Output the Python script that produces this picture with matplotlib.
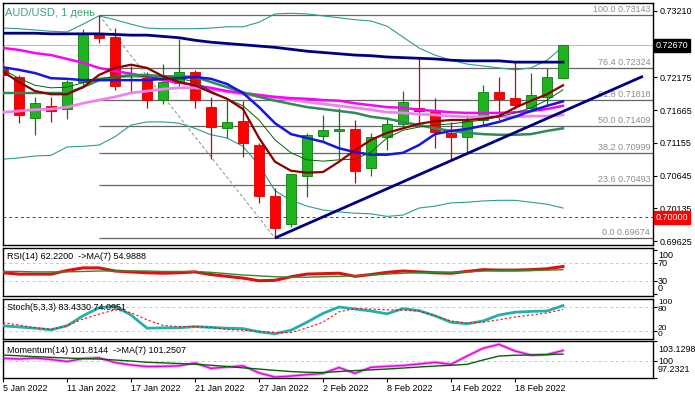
import matplotlib
matplotlib.use("Agg")
import matplotlib.pyplot as plt
from matplotlib.patches import Rectangle

plt.rcParams['font.family'] = ['Liberation Sans', 'DejaVu Sans']

W, H = 695, 395

# ---------------- data ----------------
symbol_title = "AUD/USD, 1 день"
date_ticks = [0, 4, 8, 12, 16, 20, 24, 28, 32]
date_labels = ["5 Jan 2022", "11 Jan 2022", "17 Jan 2022", "21 Jan 2022", "27 Jan 2022",
               "2 Feb 2022", "8 Feb 2022", "14 Feb 2022", "18 Feb 2022"]

opens = [0.7230, 0.7218, 0.7154, 0.7173, 0.7168, 0.7210, 0.7286, 0.7280, 0.7215, 0.7216,
         0.7182, 0.7208, 0.7226, 0.7171, 0.7138, 0.7149, 0.7112, 0.7033, 0.6989, 0.7064,
         0.7126, 0.7134, 0.7137, 0.7076, 0.7124, 0.7145, 0.7170, 0.7163, 0.7131, 0.7124,
         0.7151, 0.7194, 0.7185, 0.7170, 0.7187, 0.7216]
highs = [0.7241, 0.7221, 0.7187, 0.7187, 0.7213, 0.7293, 0.73143, 0.7294, 0.7235, 0.7226,
         0.7238, 0.7277, 0.7229, 0.7187, 0.7182, 0.7180, 0.7115, 0.7045, 0.7067, 0.7131,
         0.7159, 0.7170, 0.7151, 0.7131, 0.7156, 0.7196, 0.7247, 0.7185, 0.7148, 0.7159,
         0.7205, 0.7218, 0.7241, 0.7224, 0.7232, 0.7267]
lows = [0.7216, 0.7146, 0.7128, 0.7148, 0.7153, 0.7202, 0.7271, 0.7198, 0.7194, 0.7170,
        0.7176, 0.7204, 0.7170, 0.7090, 0.7123, 0.7093, 0.7022, 0.69674, 0.6985, 0.7031,
        0.7117, 0.7090, 0.7053, 0.7064, 0.7104, 0.7142, 0.7145, 0.7107, 0.7087, 0.7098,
        0.7143, 0.7151, 0.7168, 0.7163, 0.7174, 0.7216]
closes = [0.7221, 0.7159, 0.7177, 0.7165, 0.7210, 0.7285, 0.7279, 0.7204, 0.7213, 0.7182,
          0.7210, 0.7226, 0.7182, 0.7140, 0.7148, 0.7115, 0.7033, 0.6983, 0.7067, 0.7128,
          0.7135, 0.7137, 0.7072, 0.7124, 0.7145, 0.7179, 0.7165, 0.7132, 0.7124, 0.7149,
          0.7194, 0.7184, 0.7174, 0.7190, 0.7218, 0.7267]

ma_navy = [0.7286, 0.7286, 0.7286, 0.7285, 0.7285, 0.7285, 0.7285, 0.7284, 0.7283, 0.7283,
           0.7281, 0.7279, 0.7275, 0.7272, 0.7270, 0.7268, 0.7266, 0.7264, 0.7261, 0.7258,
           0.7256, 0.7254, 0.7252, 0.7251, 0.7249, 0.7248, 0.7247, 0.7246, 0.7244, 0.7243,
           0.7243, 0.7243, 0.7241, 0.7241, 0.7241, 0.7241]
ma_magenta = [0.7263, 0.7260, 0.7255, 0.7252, 0.7246, 0.7240, 0.7232, 0.7227, 0.7223, 0.7218,
              0.7213, 0.7209, 0.7205, 0.7201, 0.7196, 0.7193, 0.7190, 0.7187, 0.7185, 0.7184,
              0.7182, 0.7181, 0.7177, 0.7174, 0.7171, 0.7170, 0.7167, 0.7165, 0.7163, 0.7162,
              0.7162, 0.7162, 0.7163, 0.7165, 0.7168, 0.7173]
ma_violet = [0.7163, 0.7165, 0.7167, 0.7168, 0.7171, 0.7177, 0.7182, 0.7187, 0.7193, 0.7196,
             0.7199, 0.7201, 0.7201, 0.7198, 0.7195, 0.7191, 0.7188, 0.7185, 0.7182, 0.7179,
             0.7176, 0.7173, 0.7170, 0.7167, 0.7163, 0.7162, 0.7160, 0.7159, 0.7157, 0.7156,
             0.7156, 0.7156, 0.7156, 0.7157, 0.7157, 0.7159]
ma_blue = [0.7233, 0.7229, 0.7224, 0.7216, 0.7215, 0.7213, 0.7213, 0.7213, 0.7213, 0.7213,
           0.7215, 0.7216, 0.7218, 0.7215, 0.7207, 0.7193, 0.7171, 0.7146, 0.7129, 0.7123,
           0.7117, 0.7107, 0.7101, 0.7097, 0.7097, 0.7100, 0.7112, 0.7129, 0.7134, 0.7137,
           0.7142, 0.7148, 0.7156, 0.7165, 0.7173, 0.7180]
ma_darkred = [0.7226, 0.7210, 0.7196, 0.7191, 0.7191, 0.7202, 0.7221, 0.7232, 0.7237, 0.7232,
              0.7219, 0.7210, 0.7205, 0.7194, 0.7184, 0.7168, 0.7123, 0.7086, 0.7072, 0.7069,
              0.7070, 0.7086, 0.7104, 0.7120, 0.7131, 0.7138, 0.7145, 0.7149, 0.7151, 0.7151,
              0.7153, 0.7157, 0.7170, 0.7181, 0.7191, 0.7205]
ma_thin_green = [0.7229, 0.7216, 0.7205, 0.7201, 0.7202, 0.7209, 0.7216, 0.7218, 0.7218, 0.7218,
                 0.7216, 0.7216, 0.7210, 0.7196, 0.7184, 0.7173, 0.7151, 0.7120, 0.7100, 0.7089,
                 0.7087, 0.7089, 0.7090, 0.7101, 0.7123, 0.7135, 0.7140, 0.7143, 0.7145, 0.7148,
                 0.7151, 0.7156, 0.7162, 0.7170, 0.7182, 0.7198]
ma_green = [0.7193, 0.7193, 0.7193, 0.7193, 0.7193, 0.7202, 0.7213, 0.7218, 0.7221, 0.7221,
            0.7219, 0.7219, 0.7218, 0.7210, 0.7202, 0.7194, 0.7187, 0.7181, 0.7176, 0.7171,
            0.7168, 0.7165, 0.7162, 0.7156, 0.7153, 0.7148, 0.7143, 0.7138, 0.7134, 0.7131,
            0.7129, 0.7128, 0.7128, 0.7129, 0.7134, 0.7138]
bb_upper = [0.7294, 0.7293, 0.7291, 0.7289, 0.7288, 0.7300, 0.7313, 0.7307, 0.7300, 0.7294,
            0.7293, 0.7293, 0.7293, 0.7294, 0.7296, 0.7296, 0.7303, 0.7316, 0.7317, 0.7316,
            0.7313, 0.7310, 0.7307, 0.7305, 0.7297, 0.7280, 0.7263, 0.7252, 0.7244, 0.7238,
            0.7235, 0.7232, 0.7229, 0.7232, 0.7244, 0.7265]
bb_lower = [0.7090, 0.7092, 0.7095, 0.7096, 0.7109, 0.7110, 0.7112, 0.7125, 0.7143, 0.7148,
            0.7148, 0.7146, 0.7138, 0.7128, 0.7123, 0.7110, 0.7081, 0.7041, 0.7026, 0.7017,
            0.7011, 0.7008, 0.7006, 0.7005, 0.7001, 0.7003, 0.7014, 0.7017, 0.7022, 0.7023,
            0.7025, 0.7026, 0.7026, 0.7023, 0.7020, 0.7014]

price_ticks = [0.73210, 0.72175, 0.71665, 0.71155, 0.70645, 0.70135, 0.69625]
fib_levels = [100.0, 76.4, 61.8, 50.0, 38.2, 23.6, 0.0]
fib_prices = [0.73143, 0.72324, 0.71818, 0.71409, 0.70999, 0.70493, 0.69674]
fib_high_idx, fib_low_idx = 6, 17
trend_idx = [17, 40]
trend_price = [0.69674, 0.7219]
current_price = 0.72670
round_level = 0.70000

rsi = [48, 45, 45, 45, 53, 59, 59, 52, 50, 48, 47, 48, 50, 44, 40, 36, 30, 31, 39, 45,
       46, 47, 40, 44, 49, 52, 50, 48, 47, 51, 55, 54, 54, 55, 57, 62.2]
rsi_ma = [51, 51, 50, 50, 50, 51, 52, 52, 52, 52, 51, 51, 51, 49, 46, 43, 41, 39, 38, 38,
          39, 40, 41, 43, 45, 47, 48, 49, 49, 50, 52, 53, 53, 53, 54, 55.0]
rsi_levels = [70, 30]
stoch_k = [33, 30, 27, 23, 33, 58, 78, 82, 60, 27, 28, 28, 31, 29, 27, 26, 18, 13, 22, 42,
           64, 80, 75, 70, 63, 76, 71, 58, 42, 38, 45, 60, 67, 69, 70, 83.4]
stoch_d = [41, 35, 28, 24, 33, 50, 62, 73, 66, 48, 34, 31, 31, 29, 24, 22, 19, 16, 16, 28,
           42, 68, 76, 75, 73, 72, 70, 58, 45, 40, 42, 48, 55, 60, 65, 74.1]
stoch_levels = [80, 20]
momentum = [100.37, 100.26, 100.41, 100.18, 99.86, 100.33, 100.45, 99.70, 99.30, 99.06,
            99.09, 99.17, 99.62, 98.77, 98.98, 99.17, 98.05, 97.38, 97.54, 97.77,
            97.97, 98.90, 97.97, 98.93, 99.09, 99.22, 99.46, 99.73, 99.41, 100.73,
            101.96, 102.60, 101.53, 100.89, 100.97, 101.61]
momentum_ma = [100.89, 100.77, 100.64, 100.53, 100.41, 100.33, 100.26, 100.10, 99.94, 99.74,
               99.65, 99.54, 99.43, 99.27, 99.06, 98.85, 98.66, 98.45, 98.26, 98.15,
               98.10, 98.26, 98.42, 98.53, 98.66, 98.82, 98.98, 99.14, 99.25, 99.41,
               100.10, 100.73, 100.86, 100.89, 100.96, 101.05]
mom_range = [97.2321, 103.1298]

rsi_text = "RSI(14) 62.2200  ->MA(7) 54.9888"
stoch_text = "Stoch(5,3,3) 83.4330 74.0951"
mom_text = "Momentum(14) 101.8144  ->MA(7) 101.2507"

# ---------------- layout ----------------
def rect(x0, y0, x1, y1):
    return [x0 / W, 1 - y1 / H, (x1 - x0) / W, (y1 - y0) / H]

def ftext(x, y, s, **kw):
    kw.setdefault('fontsize', 6.5)
    kw.setdefault('va', 'center')
    fig.text(x / W, 1 - y / H, s, **kw)

fig = plt.figure(figsize=(W / 100, H / 100), dpi=100)
fig.patch.set_facecolor('white')

ax = fig.add_axes(rect(3, 3, 653, 245))
ax_rsi = fig.add_axes(rect(3, 248, 653, 296))
ax_st = fig.add_axes(rect(3, 299, 653, 339))
ax_mo = fig.add_axes(rect(3, 341, 653, 378))

XMAX = 650 / 16.0
for a in (ax, ax_rsi, ax_st, ax_mo):
    a.set_xlim(0, XMAX)
    a.set_facecolor('white')
    for sp in a.spines.values():
        sp.set_linewidth(1.0)
        sp.set_color('black')
    a.yaxis.tick_right()
    a.tick_params(axis='x', bottom=False, labelbottom=False)
    a.tick_params(axis='y', left=False, labelleft=False, right=True, length=3,
                  width=0.8, direction='out', labelsize=6.5, pad=1.5)

n = len(closes)
xs = list(range(n))

# ---------------- main chart ----------------
ax.set_ylim(0.69565, 0.73330)
ax.axhline(current_price, color='#c0c0c0', lw=0.8, zorder=1)
ax.axhline(round_level, color='#ff0000', lw=0.7, ls=(0, (3, 3)), zorder=1)

for lvl, p in zip(fib_levels, fib_prices):
    ax.hlines(p, fib_high_idx, XMAX, color='#666666', lw=0.9, zorder=1.5)
    ax.text(40.45, p + 0.00018, f"{lvl:.1f} {p:.5f}", ha='right', va='bottom',
            color='#8c8c8c', fontsize=6.5, zorder=1.6)
ax.plot([fib_high_idx, fib_low_idx], [fib_prices[0], fib_prices[-1]],
        color='#9a9a9a', lw=0.8, ls=(0, (3, 2)), zorder=1.6)

ax.plot(xs, bb_upper, color='#2a9d8f', lw=0.8, zorder=2)
ax.plot(xs, bb_lower, color='#2a9d8f', lw=0.8, zorder=2)

for i in range(n):
    o, h, l, c = opens[i], highs[i], lows[i], closes[i]
    up = c >= o
    body = '#1fb41f' if up else '#ff0000'
    edge = '#0b7a0b' if up else '#d40000'
    ax.vlines(i, l, h, color=edge, lw=0.9, zorder=3)
    bh = max(abs(c - o), 0.00008)
    ax.add_patch(Rectangle((i - 0.31, min(o, c)), 0.62, bh, fc=body, ec=edge,
                           lw=0.6, zorder=4))

ax.plot(xs, ma_navy, color='#000080', lw=2.0, zorder=5)
ax.plot(xs, ma_violet, color='#ee82ee', lw=2.0, zorder=5)
ax.plot(xs, ma_magenta, color='#ff00ff', lw=1.8, zorder=5)
ax.plot(xs, ma_green, color='#2e8b57', lw=1.8, zorder=5)
ax.plot(xs, ma_blue, color='#1414e6', lw=1.8, zorder=5)
ax.plot(xs, ma_thin_green, color='#006400', lw=0.7, zorder=5)
ax.plot(xs, ma_darkred, color='#8b0000', lw=1.6, zorder=5)
ax.plot(trend_idx, trend_price, color='#000080', lw=2.0, zorder=6,
        solid_capstyle='butt')

ax.set_yticks(price_ticks)
ax.set_yticklabels([f"{p:.5f}" for p in price_ticks])

ax.text(1.004, current_price, f"{current_price:.5f}", transform=ax.get_yaxis_transform(),
        ha='left', va='center', color='white', fontsize=6.5, clip_on=False, zorder=10,
        bbox=dict(boxstyle='square,pad=0.22', fc='black', ec='black'))
ax.text(1.004, round_level, f"{round_level:.5f}", transform=ax.get_yaxis_transform(),
        ha='left', va='center', color='white', fontsize=6.5, clip_on=False, zorder=10,
        bbox=dict(boxstyle='square,pad=0.22', fc='#ff0000', ec='#ff0000'))

ftext(5, 13, symbol_title, color='#3aa874', fontsize=8)

# ---------------- RSI ----------------
ax_rsi.set_ylim(-4.5, 104)
for lv in rsi_levels:
    ax_rsi.axhline(lv, color='#c8c8c8', lw=0.7, ls=(0, (3, 3)))
ax_rsi.plot(xs, rsi, color='#e01010', lw=2.2, zorder=3)
ax_rsi.plot(xs, rsi_ma, color='#2e8b2e', lw=1.0, zorder=4)
ax_rsi.set_yticks([100, 70, 30, 0])
ax_rsi.set_yticklabels([])
ftext(7, 256.5, rsi_text)
for s, yy in (("100", 255), ("70", 263), ("30", 281), ("0", 288.5)):
    ftext(658, yy, s)

# ---------------- Stochastic ----------------
ax_st.set_ylim(0, 100)
for lv in stoch_levels:
    ax_st.axhline(lv, color='#c8c8c8', lw=0.7, ls=(0, (3, 3)))
ax_st.plot(xs, stoch_k, color='#20b2aa', lw=2.0, zorder=3)
ax_st.plot(xs, stoch_d, color='#ff0000', lw=0.8, ls=(0, (2, 2)), zorder=4)
ax_st.set_yticks(stoch_levels)
ax_st.set_yticklabels([])
ftext(7, 307, stoch_text)
# the terminal prints these scale labels almost on top of each other
for s, yy, xx in (("100", 303.0, 658), ("80", 309.5, 658), ("20", 328.0, 658), ("0", 335.0, 658)):
    ftext(xx, yy, s, fontsize=6)

# ---------------- Momentum ----------------
ax_mo.set_ylim(mom_range[0], mom_range[1])
ax_mo.axhline(100, color='#c8c8c8', lw=0.7, ls=(0, (3, 3)))
ax_mo.plot(xs, momentum, color='#f4a6f4', lw=2.4, zorder=2)
ax_mo.plot(xs, momentum, color='#e000e0', lw=1.0, zorder=3)
ax_mo.plot(xs, momentum_ma, color='#006400', lw=1.0, zorder=4)
ax_mo.set_yticks([mom_range[1], 100, mom_range[0]])
ax_mo.set_yticklabels([])
ftext(7, 350.5, mom_text)
for s, yy in ((f"{mom_range[1]:.4f}", 349), ("100", 362), (f"{mom_range[0]:.4f}", 370)):
    ftext(658, yy, s)

ax_mo.set_xticks(date_ticks)
ax_mo.set_xticklabels(date_labels, ha='left')
ax_mo.tick_params(axis='x', bottom=True, labelbottom=True, length=3, width=0.8,
                  direction='out', labelsize=6.5, pad=1.5)

fig.savefig("out.png", dpi=100, facecolor='white')
